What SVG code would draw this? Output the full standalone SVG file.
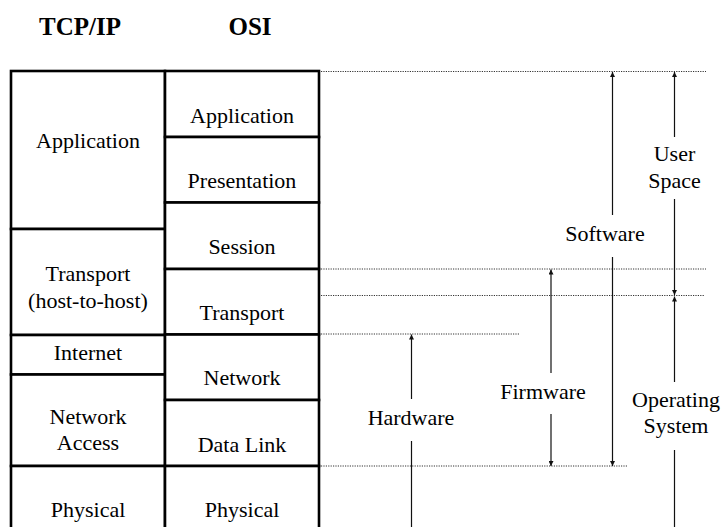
<svg xmlns="http://www.w3.org/2000/svg" width="721" height="527" viewBox="0 0 721 527">
<defs>
<style>
.box{fill:#fff;stroke:#000;stroke-width:2.6}
.dot{stroke:#333;stroke-width:1;stroke-dasharray:1.2,1.2;fill:none}
.arr{stroke:#111;stroke-width:1.2;fill:none;marker-end:url(#ah)}
</style>
<marker id="ah" viewBox="0 0 10 10" refX="10" refY="5" markerWidth="7" markerHeight="5" markerUnits="userSpaceOnUse" orient="auto">
<path d="M0,0 L10,5 L0,10 z" fill="#111"/>
</marker>
</defs>
<rect width="721" height="527" fill="#fff"/>
<text style="font-family:'Liberation Serif',serif;font-size:25px;font-weight:bold;text-anchor:middle" x="80" y="35">TCP/IP</text>
<text style="font-family:'Liberation Serif',serif;font-size:25px;font-weight:bold;text-anchor:middle" x="250" y="35">OSI</text>
<g id="tcp-application"><rect class="box" x="11" y="71" width="154" height="158"/><text style="font-family:'Liberation Serif',serif;font-size:22px;text-anchor:middle" x="88" y="147.5">Application</text></g>
<g id="tcp-transport"><rect class="box" x="11" y="229" width="154" height="106"/><text style="font-family:'Liberation Serif',serif;font-size:22px;text-anchor:middle" x="88" y="280.5">Transport</text><text style="font-family:'Liberation Serif',serif;font-size:22px;text-anchor:middle" x="88" y="307.5">(host-to-host)</text></g>
<g id="tcp-internet"><rect class="box" x="11" y="335" width="154" height="39.5"/><text style="font-family:'Liberation Serif',serif;font-size:22px;text-anchor:middle" x="88" y="359.5">Internet</text></g>
<g id="tcp-network-access"><rect class="box" x="11" y="374.5" width="154" height="91.5"/><text style="font-family:'Liberation Serif',serif;font-size:22px;text-anchor:middle" x="88" y="423.5">Network</text><text style="font-family:'Liberation Serif',serif;font-size:22px;text-anchor:middle" x="88" y="450">Access</text></g>
<g id="tcp-physical"><rect class="box" x="11" y="466" width="154" height="80"/><text style="font-family:'Liberation Serif',serif;font-size:22px;text-anchor:middle" x="88" y="516.5">Physical</text></g>
<g id="osi-application"><rect class="box" x="165" y="71" width="154" height="66"/><text style="font-family:'Liberation Serif',serif;font-size:22px;text-anchor:middle" x="242" y="122.5">Application</text></g>
<g id="osi-presentation"><rect class="box" x="165" y="137" width="154" height="65.5"/><text style="font-family:'Liberation Serif',serif;font-size:22px;text-anchor:middle" x="242" y="187.5">Presentation</text></g>
<g id="osi-session"><rect class="box" x="165" y="202.5" width="154" height="66.5"/><text style="font-family:'Liberation Serif',serif;font-size:22px;text-anchor:middle" x="242" y="254">Session</text></g>
<g id="osi-transport"><rect class="box" x="165" y="269" width="154" height="65.5"/><text style="font-family:'Liberation Serif',serif;font-size:22px;text-anchor:middle" x="242" y="319.5">Transport</text></g>
<g id="osi-network"><rect class="box" x="165" y="334.5" width="154" height="65.5"/><text style="font-family:'Liberation Serif',serif;font-size:22px;text-anchor:middle" x="242" y="385">Network</text></g>
<g id="osi-data-link"><rect class="box" x="165" y="400" width="154" height="66"/><text style="font-family:'Liberation Serif',serif;font-size:22px;text-anchor:middle" x="242" y="451.5">Data Link</text></g>
<g id="osi-physical"><rect class="box" x="165" y="466" width="154" height="80"/><text style="font-family:'Liberation Serif',serif;font-size:22px;text-anchor:middle" x="242" y="516.5">Physical</text></g>
<g id="guides">
<line class="dot" x1="321" y1="71.5" x2="706" y2="71.5"/>
<line class="dot" x1="321" y1="269" x2="706" y2="269"/>
<line class="dot" x1="321" y1="295.5" x2="705" y2="295.5"/>
<line class="dot" x1="321" y1="334" x2="520" y2="334"/>
<line class="dot" x1="321" y1="466" x2="628" y2="466"/>
</g>
<g id="connectors">
<line class="arr" x1="612.5" y1="215" x2="612.5" y2="72"/>
<line class="arr" x1="612.5" y1="257" x2="612.5" y2="466"/>
<line class="arr" x1="674.5" y1="137" x2="674.5" y2="72"/>
<line class="arr" x1="674.5" y1="199" x2="674.5" y2="295"/>
<line class="arr" x1="674.5" y1="382" x2="674.5" y2="296.5"/>
<line class="arr" x1="674.5" y1="450" x2="674.5" y2="533"/>
<line class="arr" x1="551" y1="373" x2="551" y2="269.5"/>
<line class="arr" x1="551" y1="414" x2="551" y2="466"/>
<line class="arr" x1="411.5" y1="399" x2="411.5" y2="334.5"/>
<line class="arr" x1="411.5" y1="441" x2="411.5" y2="533"/>
</g>
<g id="label-software"><text style="font-family:'Liberation Serif',serif;font-size:22px;text-anchor:middle" x="605" y="241">Software</text></g>
<g id="label-user-space"><text style="font-family:'Liberation Serif',serif;font-size:22px;text-anchor:middle" x="674.5" y="161">User</text><text style="font-family:'Liberation Serif',serif;font-size:22px;text-anchor:middle" x="674.5" y="187.5">Space</text></g>
<g id="label-firmware"><text style="font-family:'Liberation Serif',serif;font-size:22px;text-anchor:middle" x="543" y="399">Firmware</text></g>
<g id="label-hardware"><text style="font-family:'Liberation Serif',serif;font-size:22px;text-anchor:middle" x="411" y="425">Hardware</text></g>
<g id="label-os"><text style="font-family:'Liberation Serif',serif;font-size:22px;text-anchor:middle" x="676" y="407">Operating</text><text style="font-family:'Liberation Serif',serif;font-size:22px;text-anchor:middle" x="676" y="432.5">System</text></g>
</svg>
